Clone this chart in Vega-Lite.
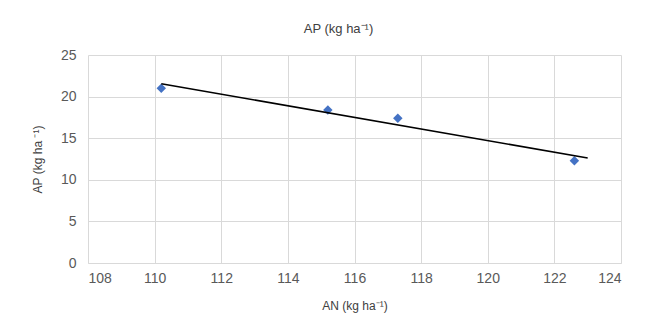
{
  "$schema": "https://vega.github.io/schema/vega-lite/v6.json",
  "width": 533,
  "height": 208,
  "autosize": {"type": "none"},
  "padding": {"left": 88, "top": 55, "right": 32, "bottom": 71},
  "background": "white",
  "title": {
    "text": "AP (kg ha⁻¹)",
    "anchor": "middle",
    "dx": -16,
    "offset": 12,
    "font": "Liberation Sans",
    "fontSize": 13,
    "fontWeight": "normal",
    "color": "#404040"
  },
  "data": {
    "values": [
      {"AN": 110.2, "AP": 21.0},
      {"AN": 115.2, "AP": 18.4},
      {"AN": 117.3, "AP": 17.4},
      {"AN": 122.6, "AP": 12.3}
    ]
  },
  "encoding": {
    "x": {
      "field": "AN",
      "type": "quantitative",
      "scale": {"domain": [108, 124], "nice": false, "zero": false},
      "axis": {
        "title": "AN (kg ha⁻¹)",
        "values": [108, 110, 112, 114, 116, 118, 120, 122, 124],
        "format": "d",
        "grid": true,
        "gridColor": "#d9d9d9",
        "domainColor": "#d9d9d9",
        "ticks": false,
        "labelPadding": 8,
        "labelFont": "Liberation Sans",
        "labelFontSize": 14,
        "labelColor": "#595959",
        "titleFont": "Liberation Sans",
        "titleFontSize": 12,
        "titleFontWeight": "normal",
        "titleColor": "#404040",
        "titlePadding": 15
      }
    },
    "y": {
      "field": "AP",
      "type": "quantitative",
      "scale": {"domain": [0, 25], "nice": false},
      "axis": {
        "title": "AP (kg ha ⁻¹)",
        "values": [0, 5, 10, 15, 20, 25],
        "grid": true,
        "gridColor": "#d9d9d9",
        "domain": false,
        "ticks": false,
        "labelPadding": 12,
        "labelFont": "Liberation Sans",
        "labelFontSize": 14,
        "labelColor": "#595959",
        "titleFont": "Liberation Sans",
        "titleFontSize": 12,
        "titleFontWeight": "normal",
        "titleColor": "#404040",
        "titlePadding": 16
      }
    }
  },
  "layer": [
    {
      "mark": {"type": "point", "shape": "diamond", "filled": true, "size": 90, "color": "#4472C4", "opacity": 1}
    },
    {
      "transform": [{"regression": "AP", "on": "AN", "extent": [110.2, 123]}],
      "mark": {"type": "line", "color": "black", "strokeWidth": 1.5}
    }
  ],
  "config": {
    "view": {"stroke": null}
  }
}
